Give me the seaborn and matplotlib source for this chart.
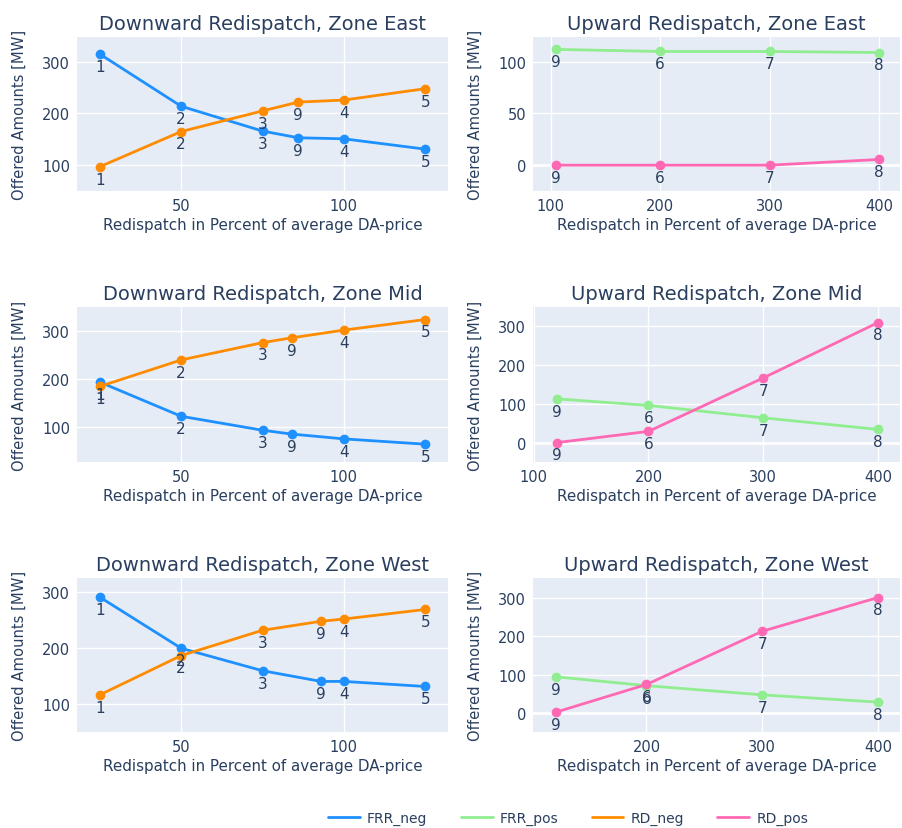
import pandas as pd
import matplotlib
matplotlib.use("Agg")
import matplotlib.pyplot as plt
import seaborn as sns

# values
down_labels = ["1", "2", "3", "9", "4", "5"]
up_labels = ["9", "6", "7", "8"]

down_x_east = [25, 50, 75, 86, 100, 125]
frr_neg_east = [315, 214, 166, 153, 151, 131]
rd_neg_east = [97, 165, 205, 222, 226, 248]

down_x_mid = [25, 50, 75, 84, 100, 125]
frr_neg_mid = [194, 123, 94, 86, 76, 65]
rd_neg_mid = [185, 240, 276, 286, 302, 324]

down_x_west = [25, 50, 75, 93, 100, 125]
frr_neg_west = [291, 200, 160, 141, 141, 132]
rd_neg_west = [117, 187, 232, 248, 252, 269]

up_x_east = [105, 200, 300, 400]
frr_pos_east = [112, 110, 110, 109]
rd_pos_east = [0, 0, 0, 5.5]

up_x_mid = [120, 200, 300, 400]
frr_pos_mid = [113, 96, 64, 34]
rd_pos_mid = [0, 29, 167, 310]

up_x_west = [122, 200, 300, 400]
frr_pos_west = [94, 71, 47, 28]
rd_pos_west = [2, 74, 213, 301]

colors = {"FRR_neg": "#1E90FF", "FRR_pos": "#90EE90",
          "RD_neg": "#FF8C00", "RD_pos": "#FF69B4"}
text_col = "#2a3f5f"

sns.set_theme(style="darkgrid", rc={
    "axes.facecolor": "#E5ECF6",
    "grid.color": "white",
    "grid.linewidth": 1.0,
    "axes.edgecolor": "#E5ECF6",
    "text.color": text_col,
    "axes.labelcolor": text_col,
    "xtick.color": text_col,
    "ytick.color": text_col,
})
plt.rcParams["font.family"] = ["DejaVu Sans"]

W, H = 902, 829
fig = plt.figure(figsize=(W / 100, H / 100), dpi=100)


def box(l, r, t, b):
    return [l / W, 1 - b / H, (r - l) / W, (b - t) / H]


panels = [
    # (box, title, x, labels, series dict, xlim, ylim, xticks, yticks)
    (box(77, 448, 38, 192), "Downward Redispatch, Zone East", down_x_east, down_labels,
     {"FRR_neg": frr_neg_east, "RD_neg": rd_neg_east}, (18, 132), (50, 348), [50, 100], [100, 200, 300]),
    (box(533, 900, 38, 192), "Upward Redispatch, Zone East", up_x_east, up_labels,
     {"FRR_pos": frr_pos_east, "RD_pos": rd_pos_east}, (84, 419), (-25, 124), [100, 200, 300, 400], [0, 50, 100]),
    (box(77, 448, 308, 463), "Downward Redispatch, Zone Mid", down_x_mid, down_labels,
     {"FRR_neg": frr_neg_mid, "RD_neg": rd_neg_mid}, (18, 132), (28, 350), [50, 100], [100, 200, 300]),
    (box(533, 900, 308, 463), "Upward Redispatch, Zone Mid", up_x_mid, up_labels,
     {"FRR_pos": frr_pos_mid, "RD_pos": rd_pos_mid}, (99.5, 419), (-50, 350), [100, 200, 300, 400], [0, 100, 200, 300]),
    (box(77, 448, 579, 733), "Downward Redispatch, Zone West", down_x_west, down_labels,
     {"FRR_neg": frr_neg_west, "RD_neg": rd_neg_west}, (18, 132), (51, 325), [50, 100], [100, 200, 300]),
    (box(533, 900, 579, 733), "Upward Redispatch, Zone West", up_x_west, up_labels,
     {"FRR_pos": frr_pos_west, "RD_pos": rd_pos_west}, (102, 419), (-50, 352), [200, 300, 400], [0, 100, 200, 300]),
]

for rect, title, xs, labels, series, xlim, ylim, xticks, yticks in panels:
    ax = fig.add_axes(rect)
    rows = []
    for name, ys in series.items():
        for x, y, lab in zip(xs, ys, labels):
            rows.append({"x": x, "y": y, "series": name, "label": lab})
    df = pd.DataFrame(rows)
    sns.lineplot(data=df, x="x", y="y", hue="series", palette=colors, marker="o",
                 markersize=7, markeredgewidth=0, linewidth=2, legend=False,
                 sort=False, ax=ax)
    for _, r in df.iterrows():
        ax.annotate(r["label"], (r["x"], r["y"]), xytext=(0, -3.5), textcoords="offset points",
                    ha="center", va="top", fontsize=11, color=text_col)
    if 0 in yticks:
        ax.axhline(0, color="white", lw=2, zorder=0.5)
    ax.set_xlim(*xlim)
    ax.set_ylim(*ylim)
    ax.set_xticks(xticks)
    ax.set_yticks(yticks)
    ax.tick_params(length=0, labelsize=10.5, pad=5)
    ax.set_title(title, fontsize=14, color=text_col, pad=6)
    ax.set_xlabel("Redispatch in Percent of average DA-price", fontsize=10.9, labelpad=3)
    ax.set_ylabel("Offered Amounts [MW]", fontsize=10.6, labelpad=11)
    for s in ax.spines.values():
        s.set_visible(False)

handles = [plt.Line2D([], [], color=colors[k], lw=2) for k in colors]
fig.legend(handles, list(colors), loc="center", bbox_to_anchor=(568 / W, 1 - 819 / H),
           ncol=4, frameon=False, fontsize=10, handlelength=2.3, columnspacing=2.4,
           handletextpad=0.5)

fig.savefig("out.png", dpi=100)
